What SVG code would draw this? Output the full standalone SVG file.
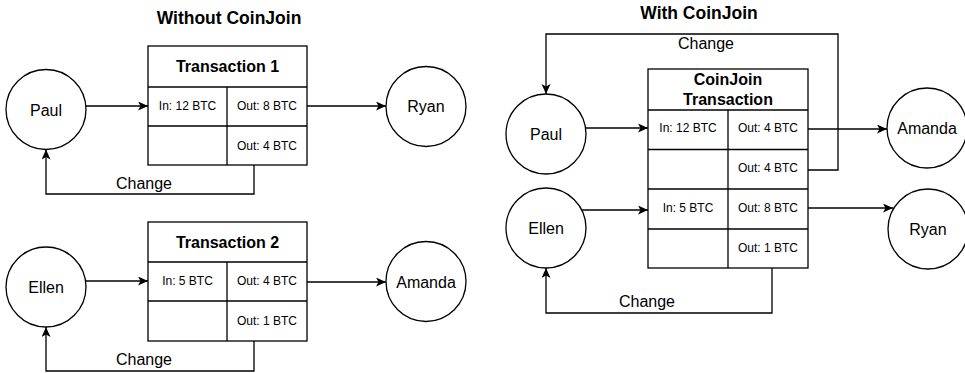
<svg xmlns="http://www.w3.org/2000/svg" width="965" height="373" viewBox="0 0 965 373">
<style>
.bg{fill:#ffffff}
.shape{fill:#ffffff;stroke:#000000;stroke-width:1.3}
.ln{fill:none;stroke:#000000;stroke-width:1.3}
.conn{fill:none;stroke:#000000;stroke-width:1.3;marker-end:url(#arr)}
text{font-family:"Liberation Sans",Arial,sans-serif;fill:#000000;text-anchor:middle}
.title{font-size:17.5px;font-weight:bold}
.hdr{font-size:16px;font-weight:bold}
.cell{font-size:12px}
.lbl{font-size:16px}
</style>
<defs>
<marker id="arr" markerUnits="userSpaceOnUse" markerWidth="12" markerHeight="10" refX="10" refY="4.5" orient="auto">
<path d="M0,0 L10,4.5 L0,9 L2.5,4.5 Z" fill="#000000"/>
</marker>
</defs>
<rect class="bg" x="0" y="0" width="965" height="373"/>

<text class="title" x="229" y="24">Without CoinJoin</text>
<text class="title" x="699" y="19">With CoinJoin</text>

<g id="connectors">
<line class="conn" x1="86" y1="106" x2="148" y2="106"/>
<line class="conn" x1="307" y1="106" x2="386" y2="106"/>
<polyline class="conn" points="254,165 254,194 46,194 46,149.5"/>
<line class="conn" x1="85.5" y1="281" x2="148" y2="281"/>
<line class="conn" x1="307" y1="282" x2="386" y2="282"/>
<polyline class="conn" points="254,341 254,371 46,371 46,327"/>
<line class="conn" x1="585.5" y1="128" x2="648" y2="128"/>
<line class="conn" x1="808" y1="129" x2="887" y2="129"/>
<polyline class="conn" points="808,170 838,170 838,34 546,34 546,94"/>
<line class="conn" x1="582" y1="210" x2="648" y2="210"/>
<line class="conn" x1="808" y1="208" x2="893" y2="208"/>
<polyline class="conn" points="772,268 772,313 546,313 546,268"/>
<text class="lbl" x="144" y="189">Change</text>
<text class="lbl" x="144" y="365">Change</text>
<text class="lbl" x="706" y="49">Change</text>
<text class="lbl" x="647" y="307">Change</text>
</g>

<g id="paul1"><circle class="shape" cx="46" cy="109.5" r="40"/><text class="lbl" x="46" y="115.5">Paul</text></g>
<g id="ryan1"><circle class="shape" cx="426" cy="106.5" r="40"/><text class="lbl" x="426" y="112">Ryan</text></g>
<g id="ellen1"><circle class="shape" cx="46" cy="287" r="40"/><text class="lbl" x="46" y="293">Ellen</text></g>
<g id="amanda1"><circle class="shape" cx="426" cy="281.5" r="40"/><text class="lbl" x="426" y="287.5">Amanda</text></g>

<g id="tx1">
<rect class="shape" x="148" y="46" width="159" height="119"/>
<line class="ln" x1="148" y1="87" x2="307" y2="87"/>
<line class="ln" x1="148" y1="126" x2="307" y2="126"/>
<line class="ln" x1="227" y1="87" x2="227" y2="165"/>
<text class="hdr" x="227.5" y="72">Transaction 1</text>
<text class="cell" x="187.5" y="110">In: 12 BTC</text>
<text class="cell" x="267" y="110">Out: 8 BTC</text>
<text class="cell" x="267" y="149.5">Out: 4 BTC</text>
</g>

<g id="tx2">
<rect class="shape" x="148" y="222" width="159" height="119"/>
<line class="ln" x1="148" y1="262" x2="307" y2="262"/>
<line class="ln" x1="148" y1="301" x2="307" y2="301"/>
<line class="ln" x1="227" y1="262" x2="227" y2="341"/>
<text class="hdr" x="227.5" y="247.5">Transaction 2</text>
<text class="cell" x="187.5" y="285">In: 5 BTC</text>
<text class="cell" x="267" y="285">Out: 4 BTC</text>
<text class="cell" x="267" y="324.5">Out: 1 BTC</text>
</g>

<g id="paul2"><circle class="shape" cx="546" cy="134" r="40"/><text class="lbl" x="546" y="140">Paul</text></g>
<g id="ellen2"><circle class="shape" cx="546" cy="228" r="40"/><text class="lbl" x="546" y="234">Ellen</text></g>
<g id="amanda2"><circle class="shape" cx="927" cy="128" r="40"/><text class="lbl" x="927" y="134">Amanda</text></g>
<g id="ryan2"><circle class="shape" cx="928" cy="229" r="40"/><text class="lbl" x="928" y="235">Ryan</text></g>

<g id="coinjoin">
<rect class="shape" x="648" y="69" width="160" height="199"/>
<line class="ln" x1="648" y1="110" x2="808" y2="110"/>
<line class="ln" x1="648" y1="149.5" x2="808" y2="149.5"/>
<line class="ln" x1="648" y1="189" x2="808" y2="189"/>
<line class="ln" x1="648" y1="229" x2="808" y2="229"/>
<line class="ln" x1="728" y1="110" x2="728" y2="268"/>
<text class="hdr" x="728" y="84.5">CoinJoin</text>
<text class="hdr" x="728" y="104.5">Transaction</text>
<text class="cell" x="688" y="132">In: 12 BTC</text>
<text class="cell" x="768" y="132">Out: 4 BTC</text>
<text class="cell" x="768" y="172">Out: 4 BTC</text>
<text class="cell" x="688" y="212">In: 5 BTC</text>
<text class="cell" x="768" y="212">Out: 8 BTC</text>
<text class="cell" x="768" y="252">Out: 1 BTC</text>
</g>
</svg>
